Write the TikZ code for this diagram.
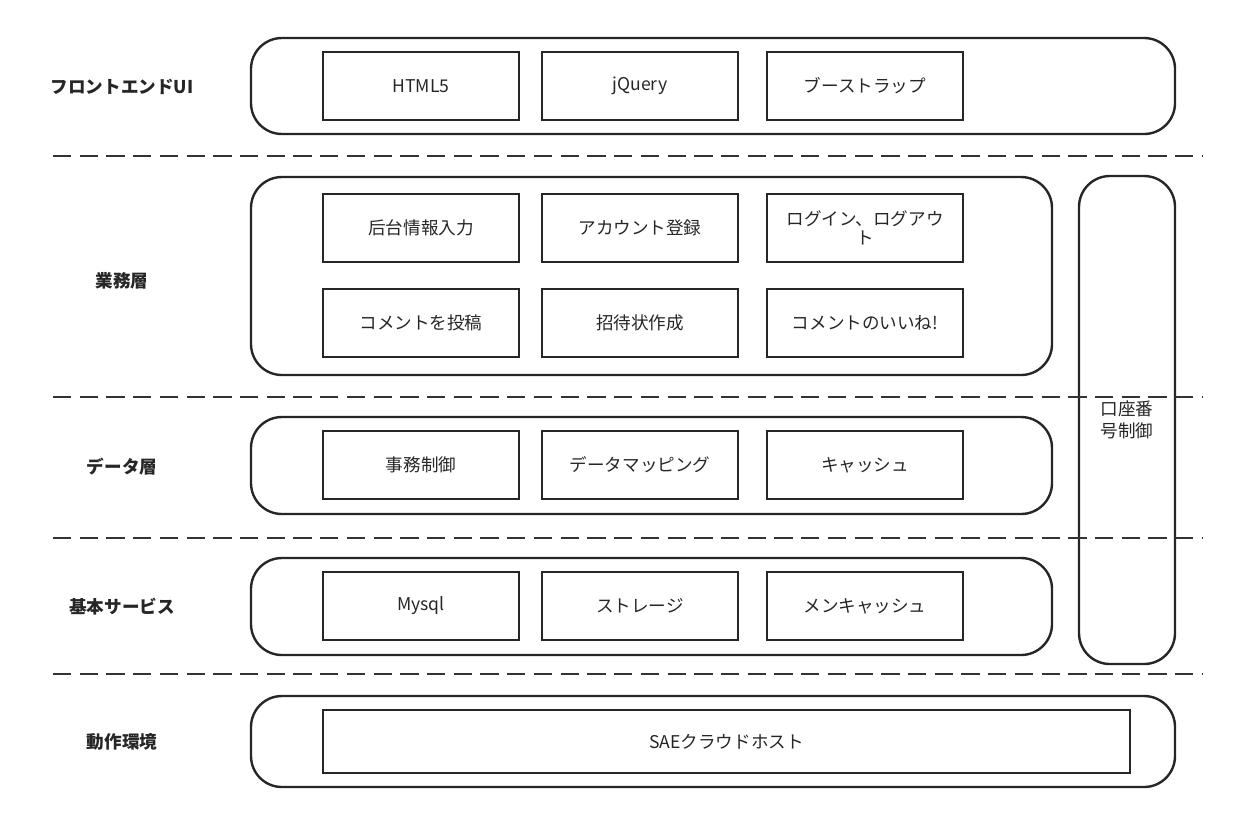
\documentclass[tikz,border=0pt]{standalone}
\usepackage{fontspec}
\setmainfont{Noto Sans CJK JP}
\begin{document}
\begin{tikzpicture}[x=0.025cm,y=-0.025cm,
  grp/.style={draw=black!85,line width=1.7pt,rounded corners=22pt},
  box/.style={draw=black!85,line width=1.6pt,minimum width=196*0.025cm,minimum height=68*0.025cm,inner sep=0pt,font=\fontsize{12.5}{14}\selectfont,text=black!85,align=center},
  lab/.style={font=\fontsize{12.5}{14}\selectfont\bfseries,text=black!85},
  sep/.style={draw=black!80,line width=1.7pt,dash pattern=on 13pt off 6pt}]
\useasboundingbox (0,0) rectangle (1240,824);
% groups
\draw[grp] (251,38) rectangle (1175,134);
\draw[grp] (251,177) rectangle (1052,375);
\draw[grp] (251,417) rectangle (1052,514);
\draw[grp] (251,558) rectangle (1052,655);
\draw[grp] (251,696) rectangle (1175,787);
\draw[grp] (1079,176) rectangle (1175,664);
\node[font=\fontsize{12.5}{16}\selectfont,text=black!85,align=center] (acct) at (1127,420) {口座番\\号制御};
% separators
\coordinate (s1a) at (53,156); \coordinate (s1b) at (1203,156);
\coordinate (s2a) at (53,397); \coordinate (s2b) at (1203,397);
\coordinate (s3a) at (53,538); \coordinate (s3b) at (1203,538);
\coordinate (s4a) at (53,674); \coordinate (s4b) at (1203,674);
\draw[sep] (s1a)--(s1b); \draw[sep] (s2a)--(s2b); \draw[sep] (s3a)--(s3b); \draw[sep] (s4a)--(s4b);
% labels
\node[lab] (l1) at (122,87) {フロントエンドUI};
\node[lab] (l2) at (122,281) {業務層};
\node[lab] (l3) at (122,467) {データ層};
\node[lab] (l4) at (122,607) {基本サービス};
\node[lab] (l5) at (122,742) {動作環境};
% boxes
\node[box] (a1) at (421,86) {HTML5};
\node[box] (a2) at (640,86) {jQuery};
\node[box] (a3) at (865,86) {ブーストラップ};
\node[box] (b1) at (421,228) {后台情報入力};
\node[box] (b2) at (640,228) {アカウント登録};
\node[box,font=\fontsize{12.5}{13.5}\selectfont] (b3) at (865,228) {ログイン、ログアウ\\ト};
\node[box] (b4) at (421,323) {コメントを投稿};
\node[box] (b5) at (640,323) {招待状作成};
\node[box] (b6) at (865,323) {コメントのいいね!};
\node[box] (c1) at (421,465) {事務制御};
\node[box] (c2) at (640,465) {データマッピング};
\node[box] (c3) at (865,465) {キャッシュ};
\node[box] (d1) at (421,606) {Mysql};
\node[box] (d2) at (640,606) {ストレージ};
\node[box] (d3) at (865,606) {メンキャッシュ};
\node[box,minimum width=807*0.025cm,minimum height=63*0.025cm] (e1) at (726.5,741.5) {SAEクラウドホスト};
\end{tikzpicture}
\end{document}
